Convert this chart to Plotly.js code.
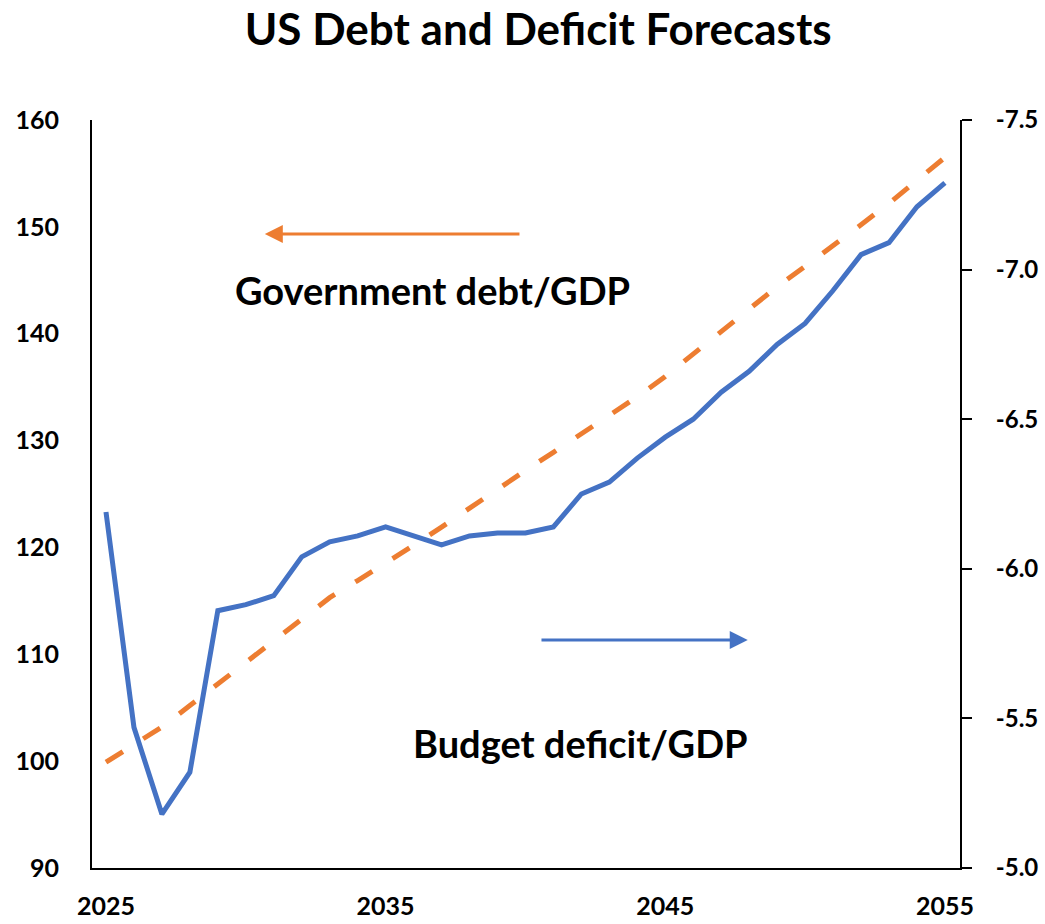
<!DOCTYPE html>
<html>
<head>
<meta charset="utf-8">
<script src="https://cdn.plot.ly/plotly-3.0.1.min.js"></script>
<style>html,body{margin:0;padding:0;background:#fff;}#chart{width:1045px;height:924px;}</style>
</head>
<body>
<div id="chart"></div>
<script>
const years = [2025,2026,2027,2028,2029,2030,2031,2032,2033,2034,2035,2036,2037,2038,2039,2040,2041,2042,2043,2044,2045,2046,2047,2048,2049,2050,2051,2052,2053,2054,2055];
const debtGDP = [99.9,101.5,103.2,105.2,107.2,109.2,111.2,113.2,115.3,116.9,118.5,120.2,121.9,123.7,125.5,127.2,128.9,130.6,132.3,134.1,136.0,138.1,140.2,142.3,144.4,146.3,148.2,150.2,152.2,154.3,156.5];
const deficitGDP = [-6.19,-5.47,-5.18,-5.32,-5.86,-5.88,-5.91,-6.04,-6.09,-6.11,-6.14,-6.11,-6.08,-6.11,-6.12,-6.12,-6.14,-6.25,-6.29,-6.37,-6.44,-6.50,-6.59,-6.66,-6.75,-6.82,-6.93,-7.05,-7.09,-7.21,-7.29];
const xTicks = [2025,2035,2045,2055];
const leftTicks = [90,100,110,120,130,140,150,160];
const rightTicks = [-7.5,-7.0,-6.5,-6.0,-5.5,-5.0];
const rightTickText = ["-7.5","-7.0","-6.5","-6.0","-5.5","-5.0"];
const titleText = "US Debt and Deficit Forecasts";
const debtLabel = "Government debt/GDP";
const deficitLabel = "Budget deficit/GDP";

const FONT = "Lato, 'Open Sans', sans-serif";
const tickFont = {family: FONT, size: 25, color: "#000", weight: 700};
const rightTickFont = {family: FONT, size: 24, color: "#000", weight: 700};

const traces = [
  {x: years, y: debtGDP, type: "scatter", mode: "lines", name: debtLabel,
   line: {color: "#ED7D31", width: 5, dash: "20px,24px"}, yaxis: "y"},
  {x: years, y: deficitGDP, type: "scatter", mode: "lines", name: deficitLabel,
   line: {color: "#4472C4", width: 5}, yaxis: "y2"}
];

const layout = {
  width: 1045, height: 924,
  margin: {l: 92, r: 85, t: 120, b: 56},
  paper_bgcolor: "#fff", plot_bgcolor: "#fff",
  showlegend: false,
  title: {text: "<b>" + titleText + "</b>", font: {family: FONT, size: 44, color: "#000"},
          x: 0.515, xref: "container", y: 0.968, yref: "container", yanchor: "middle"},
  xaxis: {range: [2024.5, 2055.54], tickvals: xTicks, ticktext: xTicks.map(String),
          showgrid: false, zeroline: false, showline: true, linecolor: "#000", linewidth: 2,
          ticks: "", tickfont: tickFont, ticklabelstandoff: 15},
  yaxis: {range: [90, 160], tickvals: leftTicks, showgrid: false, zeroline: false,
          showline: true, linecolor: "#000", linewidth: 2, ticks: "", tickfont: tickFont,
          ticklabelstandoff: 26},
  yaxis2: {range: [-5.0, -7.5], tickvals: rightTicks, ticktext: rightTickText, overlaying: "y", side: "right",
           showgrid: false, zeroline: false, showline: true, linecolor: "#000", linewidth: 2,
           ticks: "outside", ticklen: 10, tickwidth: 2, tickcolor: "#000", tickfont: rightTickFont,
           ticklabelstandoff: 19},
  annotations: [
    {x: 2030.68, y: 149.33, xref: "x", yref: "y", ax: 2039.84, ay: 149.33, axref: "x", ayref: "y",
     text: "", showarrow: true, arrowhead: 2, arrowsize: 1.2, arrowwidth: 3, arrowcolor: "#ED7D31"},
    {x: 2047.95, y: 111.34, xref: "x", yref: "y", ax: 2040.52, ay: 111.34, axref: "x", ayref: "y",
     text: "", showarrow: true, arrowhead: 2, arrowsize: 1.2, arrowwidth: 3, arrowcolor: "#4472C4"},
    {x: 2036.69, y: 144.09, xref: "x", yref: "y", text: debtLabel, showarrow: false,
     font: {family: FONT, size: 38, color: "#000", weight: 700}},
    {x: 2041.98, y: 101.7, xref: "x", yref: "y", text: deficitLabel, showarrow: false,
     font: {family: FONT, size: 38, color: "#000", weight: 700}}
  ]
};

Plotly.newPlot("chart", traces, layout, {displayModeBar: false, staticPlot: true});
</script>
</body>
</html>
